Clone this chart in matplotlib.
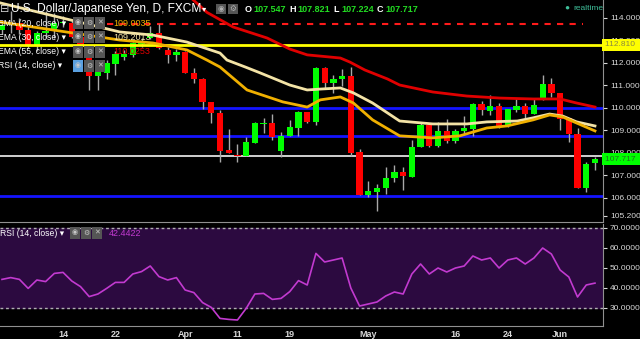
import matplotlib.pyplot as plt
import numpy as np

plt.rcParams['font.family'] = ['Liberation Sans', 'DejaVu Sans']

# daily candles, 3 Mar 2016 .. 7 Jun 2016 (trading days)
opens = [113.48, 113.70, 113.78, 113.45, 112.74, 113.33, 113.41, 113.78, 113.78, 113.14,
         112.59, 111.41, 111.56, 111.96, 112.28, 112.36, 112.84, 113.10, 113.32, 112.58,
         112.36, 112.50, 111.54, 111.27, 110.28, 109.76, 108.13, 107.91, 107.87, 108.46,
         109.27, 109.32, 108.09, 108.77, 109.13, 109.81, 109.39, 111.79, 111.13, 111.27,
         111.42, 108.03, 106.13, 106.28, 106.43, 106.87, 107.17, 106.95, 108.25, 109.24,
         108.31, 108.98, 108.55, 108.98, 109.07, 110.16, 109.88, 110.09, 109.21, 109.91,
         110.10, 109.72, 110.38, 111.07, 110.68, 109.54, 108.84, 106.46, 107.547]
highs = [113.85, 114.30, 114.00, 113.70, 113.41, 114.30, 114.22, 114.10, 113.85, 113.26,
         112.74, 111.78, 112.15, 112.52, 112.58, 112.95, 113.10, 113.64, 113.73, 112.72,
         112.61, 112.55, 111.76, 111.32, 110.28, 109.91, 109.05, 108.40, 108.73, 109.39,
         109.54, 109.72, 108.95, 109.47, 109.88, 109.81, 111.84, 111.84, 111.47, 111.73,
         111.84, 108.18, 106.76, 106.61, 107.39, 107.45, 107.36, 108.58, 109.39, 109.24,
         109.36, 109.51, 109.07, 109.64, 110.24, 110.32, 110.58, 110.24, 109.96, 110.38,
         110.24, 110.38, 111.47, 111.32, 110.68, 109.54, 109.10, 107.61, 107.821]
lows = [113.30, 113.35, 113.30, 112.67, 112.52, 113.11, 113.11, 113.60, 113.11, 112.52,
        110.80, 110.80, 111.29, 111.48, 112.13, 112.28, 112.72, 113.05, 112.61, 112.01,
        112.10, 111.54, 111.10, 109.94, 109.32, 107.61, 107.99, 107.59, 107.87, 108.46,
        108.87, 108.58, 107.81, 108.77, 108.76, 109.32, 109.24, 110.87, 110.65, 110.98,
        107.87, 106.13, 106.03, 105.42, 106.16, 106.72, 106.36, 106.95, 108.25, 108.25,
        108.25, 108.46, 108.46, 108.80, 108.76, 109.69, 109.69, 109.10, 109.17, 109.84,
        109.39, 109.72, 110.36, 110.50, 109.02, 108.50, 106.43, 106.28, 107.224]
closes = [113.70, 113.78, 113.45, 112.74, 113.33, 113.40, 113.78, 113.80, 113.14, 112.74,
          111.41, 111.60, 112.00, 112.40, 112.39, 112.87, 112.95, 113.35, 112.65, 112.36,
          112.50, 111.54, 111.27, 110.28, 109.76, 108.10, 107.99, 107.88, 108.50, 109.32,
          109.32, 108.73, 108.77, 109.17, 109.81, 109.39, 111.76, 111.13, 111.29, 111.42,
          108.01, 106.13, 106.31, 106.46, 106.90, 107.17, 106.99, 108.28, 109.24, 108.31,
          108.98, 108.53, 108.99, 109.10, 110.16, 109.91, 110.09, 109.20, 109.96, 110.10,
          109.72, 110.13, 111.07, 110.65, 109.50, 108.84, 106.43, 107.50, 107.717]

# moving averages (candle index, price)
ema20_idx = [-0.2, 13.5, 17.3, 21.2, 23.5, 25.0, 28.1, 32.2, 35.0, 36.5, 38.8, 40.3, 42.5,
             45.6, 49.4, 52.5, 55.6, 57.9, 60.9, 62.8, 64.3, 65.9, 68.0]
ema20_val = [113.82, 113.02, 112.89, 112.58, 112.13, 111.82, 110.80, 110.27, 110.04, 110.36,
             110.49, 110.22, 109.47, 108.76, 108.67, 108.76, 109.11, 109.20, 109.47, 109.69,
             109.60, 109.33, 108.98]
ema30_idx = [-0.2, 13.5, 17.3, 21.2, 25.0, 25.8, 27.9, 29.6, 33.0, 35.0, 36.5, 38.8, 40.3,
             42.5, 45.6, 49.4, 53.3, 55.6, 59.1, 60.9, 62.8, 64.3, 65.9, 68.0]
ema30_val = [114.67, 113.38, 113.24, 112.93, 112.44, 112.13, 111.82, 111.56, 111.02, 110.80,
             110.84, 110.89, 110.67, 110.22, 109.42, 109.29, 109.29, 109.38, 109.42, 109.56,
             109.73, 109.64, 109.38, 109.20]
ema55_idx = [21.8, 23.5, 26.5, 30.4, 33.0, 35.0, 38.8, 39.9, 41.6, 44.2, 45.6, 49.4, 53.3,
             57.1, 60.9, 64.0, 65.9, 68.0]
ema55_val = [114.85, 114.25, 113.60, 113.11, 112.62, 112.36, 112.22, 112.04, 111.69, 111.29,
             111.02, 110.71, 110.53, 110.44, 110.40, 110.40, 110.22, 110.04]

rsi = [44.3, 45.2, 44.3, 39.8, 44.0, 43.2, 47.3, 47.8, 43.5, 40.7,
       35.7, 37.0, 39.8, 42.8, 42.8, 47.0, 48.2, 51.0, 45.7, 44.0,
       45.2, 39.0, 37.7, 32.7, 30.3, 24.8, 24.3, 24.0, 29.8, 37.0,
       37.3, 34.3, 34.8, 38.2, 43.7, 41.5, 57.3, 53.0, 54.0, 55.0,
       40.0, 31.0, 32.0, 33.0, 36.0, 38.0, 37.0, 47.0, 52.0, 47.0,
       50.0, 48.0, 50.0, 51.0, 56.0, 54.0, 55.0, 50.0, 54.0, 55.0,
       52.0, 55.0, 60.0, 57.0, 49.0, 45.5, 35.5, 41.5, 42.44]

blue_levels = [110.0, 108.77, 106.10]
white_level = 107.88
yellow_level = 112.81
red_dashed_level = 113.73

tick_pos = [7, 13, 21, 27, 33, 42, 52, 58, 64]
tick_lab = ['14', '22', 'Apr', '11', '19', 'May', '16', '24', 'Jun']
price_ticks = [114, 113, 112, 111, 110, 109, 108, 107, 106, 105.2]
rsi_ticks = [70, 60, 50, 40, 30]

W, H = 640, 339
fig = plt.figure(figsize=(6.4, 3.39), dpi=100, facecolor='black')


def fp(x, y):
    return x / W, 1 - y / H


XL = (-0.23, 68.92)
ax = fig.add_axes([0, 1 - 222 / H, 603 / W, 222 / H], facecolor='black')
ax2 = fig.add_axes([0, 1 - 326 / H, 603 / W, 102 / H], facecolor='black')

# price levels
for lv in blue_levels:
    ax.axhline(lv, color='#1414ff', lw=2, zorder=1)
ax.axhline(white_level, color='#d0d0d0', lw=1.4, zorder=1)
ax.axhline(yellow_level, color='#ffff00', lw=2, zorder=4)
ax.hlines(red_dashed_level, 12, 66.6, colors='#ff1a1a', lw=1.5, linestyles=(0, (3, 3)), zorder=1)

# candles
idx = np.arange(len(opens))
o = np.array(opens); c = np.array(closes)
up = c >= o
ax.vlines(idx, lows, highs, color='#a8a8a8', lw=1, zorder=2)
body_lo = np.minimum(o, c)
body_h = np.maximum(np.abs(c - o), 0.04)
ax.bar(idx[up], body_h[up], bottom=body_lo[up], width=0.72, color='#00ff00', zorder=3)
ax.bar(idx[~up], body_h[~up], bottom=body_lo[~up], width=0.72, color='#ff0000', zorder=3)

# moving averages
ax.plot(ema55_idx, ema55_val, color='#e00000', lw=2, zorder=5)
ax.plot(ema30_idx, ema30_val, color='#f3e3a6', lw=2, zorder=5)
ax.plot(ema20_idx, ema20_val, color='#f0b000', lw=2, zorder=5)

ax.set_xlim(*XL)
ax.set_ylim(104.93, 114.8)
ax.yaxis.tick_right()
ax.set_yticks(price_ticks)
ax.set_yticklabels(['%.3f' % t for t in price_ticks])
ax.tick_params(axis='y', colors='#d8d8d8', labelsize=6, length=3, pad=2)
ax.set_xticks([])
for s in ['top', 'left']:
    ax.spines[s].set_visible(False)
ax.spines['right'].set_color('#909090')
ax.spines['bottom'].set_color('#909090')

# price tags
tr = ax.get_yaxis_transform()
ax.text(1.003, yellow_level, '112.810 ', transform=tr, fontsize=6, color='#8a8a40', va='center', ha='left',
        bbox=dict(boxstyle='square,pad=0.3', fc='#ffff00', ec='none'), zorder=10, clip_on=False)
ax.text(1.003, closes[-1], '107.717 ', transform=tr, fontsize=6, color='#207020', va='center', ha='left',
        bbox=dict(boxstyle='square,pad=0.3', fc='#00ff00', ec='none'), zorder=10, clip_on=False)

# RSI panel
ax2.axhspan(30, 70, color='#2c0a40', zorder=0)
ax2.axhline(70, color='#b0b0b0', lw=1, ls=(0, (2, 2)))
ax2.axhline(30, color='#b0b0b0', lw=1, ls=(0, (2, 2)))
ax2.plot(idx, rsi, color='#c23ad0', lw=1.2, zorder=3)
ax2.set_xlim(*XL)
ax2.set_ylim(21, 72)
ax2.yaxis.tick_right()
ax2.set_yticks(rsi_ticks)
ax2.set_yticklabels(['%.4f' % t for t in rsi_ticks])
ax2.tick_params(axis='y', colors='#d8d8d8', labelsize=6, length=3, pad=2)
ax2.set_xticks(tick_pos)
ax2.set_xticklabels(tick_lab, fontweight='bold')
ax2.tick_params(axis='x', colors='#d8d8d8', labelsize=6.5, length=0, pad=3)
ax2.spines['top'].set_visible(False)
ax2.spines['left'].set_visible(False)
ax2.spines['right'].set_color('#909090')
ax2.spines['bottom'].set_color('#909090')

# header text
fig.text(*fp(0, 9), '⊟', color='#d0d0d0', fontsize=8, va='center')
fig.text(*fp(11, 9), 'U.S. Dollar/Japanese Yen, D, FXCM', color='white', fontsize=8.6, va='center')
fig.text(*fp(202, 10), '▾', color='white', fontsize=6, va='center')
for xx, sym in [(221, '◉'), (233, '⚙')]:
    fig.text(*fp(xx, 9), sym, color='#b0b0b0', fontsize=5.5, va='center', ha='center',
             bbox=dict(boxstyle='square,pad=0.25', fc='#555555', ec='none'))
hx = 245
for lab, val in [('O', '107.547'), ('H', '107.821'), ('L', '107.224'), ('C', '107.717')]:
    fig.text(*fp(hx, 9), lab, color='white', fontsize=6.5, fontweight='bold', va='center')
    fig.text(*fp(hx + 8, 9), val, color='#22dd22', fontsize=6.5, fontweight='bold', va='center')
    hx += 44
fig.text(*fp(567, 8), '●', color='#3fbf9a', fontsize=6, va='center', ha='center')
fig.text(*fp(573, 8), 'realtime', color='#3fbf9a', fontsize=6, va='center')

legend_rows = [(23, 'EMA (20, close)', '109.0035', '#f0b000'),
               (37, 'EMA (30, close)', '109.2013', '#f3e3a6'),
               (52, 'EMA (55, close)', '110.0253', '#e00000'),
               (66, 'RSI (14, close)', None, None)]
for yy, name, val, col in legend_rows:
    fig.text(*fp(-2, yy), name + ' ▾', color='white', fontsize=6.2, va='center')
    for k, sym in enumerate(['◉', '⚙', '✕']):
        fc = '#5aa0e0' if (name.startswith('RSI') and k == 0) else '#555555'
        fig.text(*fp(78 + 11 * k, yy), sym, color='#c8c8c8', fontsize=5, va='center', ha='center',
                 bbox=dict(boxstyle='square,pad=0.3', fc=fc, ec='none'))
    if val:
        fig.text(*fp(113, yy), val, color=col, fontsize=6.5, va='center')

fig.text(*fp(0, 233), 'RSI (14, close) ▾', color='white', fontsize=6.2, va='center')
for k, sym in enumerate(['◉', '⚙', '✕']):
    fig.text(*fp(75 + 11 * k, 233), sym, color='#c8c8c8', fontsize=5, va='center', ha='center',
             bbox=dict(boxstyle='square,pad=0.3', fc='#555555', ec='none'))
fig.text(*fp(109, 233), '42.4422', color='#c23ad0', fontsize=6.5, va='center')

fig.savefig('out.png', dpi=100, facecolor='black')
